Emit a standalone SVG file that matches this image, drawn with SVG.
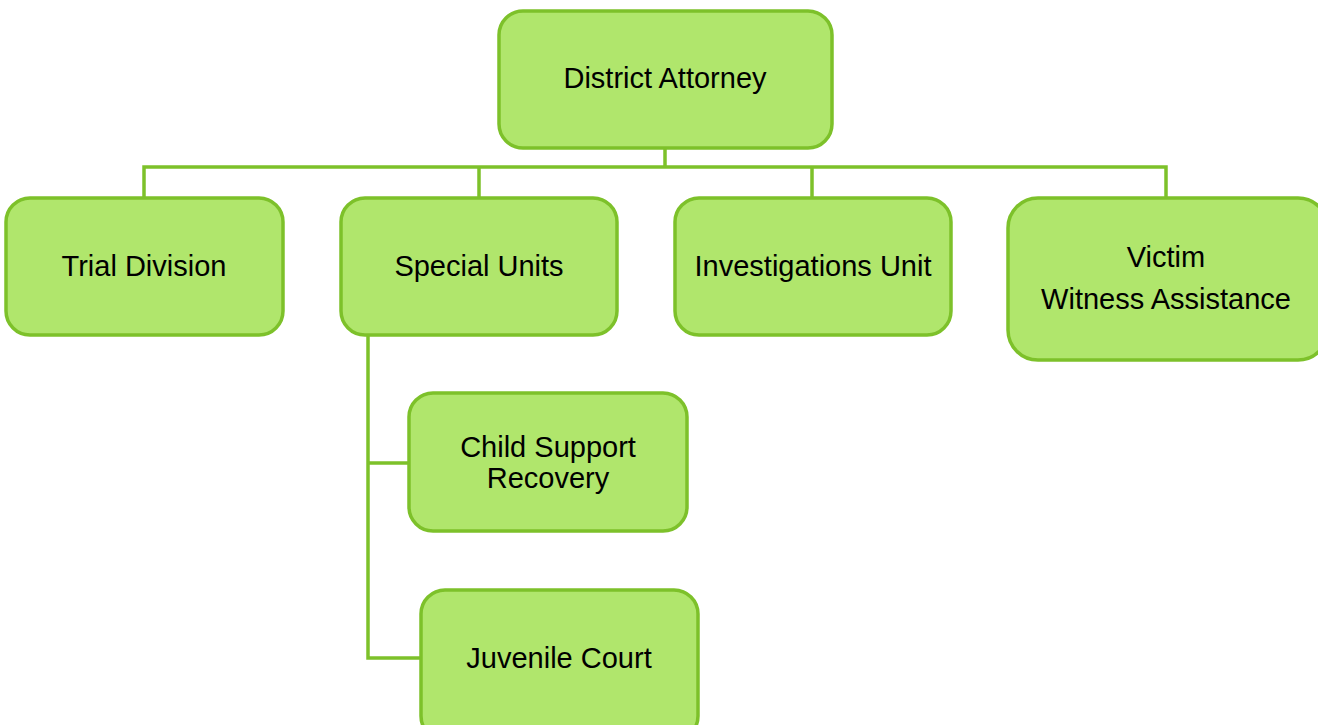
<svg xmlns="http://www.w3.org/2000/svg" width="1318" height="725" viewBox="0 0 1318 725">
<style>
.box{fill:#b0e66c;stroke:#7dc12a;stroke-width:3.5}
.ln{fill:none;stroke:#7dc12a;stroke-width:3.5}
text{font-family:"Liberation Sans",Arial,sans-serif;font-size:29px;fill:#000;text-anchor:middle}
</style>
<rect width="1318" height="725" fill="#fff"/>
<g id="connectors">
<path class="ln" d="M665 148V167M144 197V167H1166V197M479 167V197M812 167V197"/>
<path class="ln" d="M368 335V658H420M368 463H408"/>
</g>
<g id="district-attorney"><rect class="box" x="499" y="11" width="333" height="137" rx="24"/><text x="665" y="88">District Attorney</text></g>
<g id="trial-division"><rect class="box" x="6" y="198" width="277" height="137" rx="24"/><text x="144" y="276">Trial Division</text></g>
<g id="special-units"><rect class="box" x="341" y="198" width="276" height="137" rx="24"/><text x="479" y="276">Special Units</text></g>
<g id="investigations-unit"><rect class="box" x="675" y="198" width="276" height="137" rx="24"/><text x="813" y="276">Investigations Unit</text></g>
<g id="victim-witness"><rect class="box" x="1008" y="198" width="320" height="162" rx="30"/><text x="1166" y="267">Victim</text><text x="1166" y="309">Witness Assistance</text></g>
<g id="child-support"><rect class="box" x="409" y="393" width="278" height="138" rx="24"/><text x="548" y="457">Child Support</text><text x="548" y="488">Recovery</text></g>
<g id="juvenile-court"><rect class="box" x="421" y="590" width="277" height="150" rx="24"/><text x="559" y="668">Juvenile Court</text></g>
</svg>
